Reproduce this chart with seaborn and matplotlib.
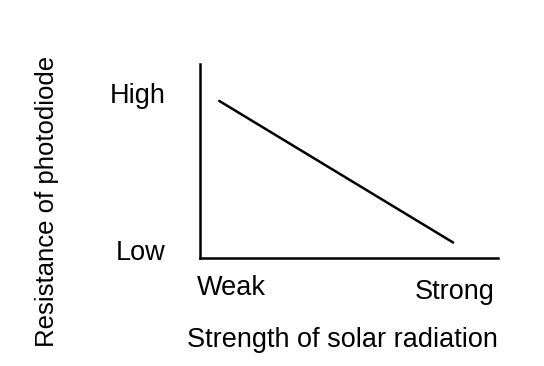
import matplotlib
matplotlib.use('Agg')
import matplotlib.pyplot as plt
import matplotlib.transforms as mtransforms
import seaborn as sns

# data (axes run 0..1)
radiation = [0.064, 0.85]
resistance = [0.81, 0.08]
x_ticks = [0.105, 0.855]
x_labels = ['Weak', 'Strong']
y_ticks = [0.85, 0.04]
y_labels = ['High', 'Low']

sns.set_style('white')
plt.rcParams['font.family'] = ['Liberation Sans', 'DejaVu Sans']
plt.rcParams['text.color'] = 'black'
plt.rcParams['axes.labelcolor'] = 'black'
plt.rcParams['xtick.color'] = 'black'
plt.rcParams['ytick.color'] = 'black'

fig = plt.figure(figsize=(5.44, 3.66), dpi=100)
ax = fig.add_axes([0.368, 0.295, 0.547, 0.530])

sns.lineplot(x=radiation, y=resistance, ax=ax, color='black', linewidth=1.8)

ax.set_xlim(0, 1)
ax.set_ylim(0, 1)
sns.despine(ax=ax)
for side in ['left', 'bottom']:
    ax.spines[side].set_color('black')
    ax.spines[side].set_linewidth(1.8)

ax.set_xticks(x_ticks)
ax.set_xticklabels(x_labels, fontsize=19.5)
ax.set_yticks(y_ticks)
ax.set_yticklabels(y_labels, fontsize=19.5)
ax.tick_params(axis='x', length=0, pad=12)
ax.tick_params(axis='y', length=0, pad=25)

# "Strong" sits a little lower than "Weak"
lbl = ax.get_xticklabels()[1]
lbl.set_transform(lbl.get_transform() + mtransforms.ScaledTranslation(0, -4 / 100, fig.dpi_scale_trans))

ax.set_xlabel('Strength of solar radiation', fontsize=19.5)
ax.set_ylabel('Resistance of photodiode', fontsize=18.5)
ax.xaxis.set_label_coords(0.477, -0.356)
ax.yaxis.set_label_coords(-0.473, 0.29)

plt.savefig('out.png', dpi=100)
